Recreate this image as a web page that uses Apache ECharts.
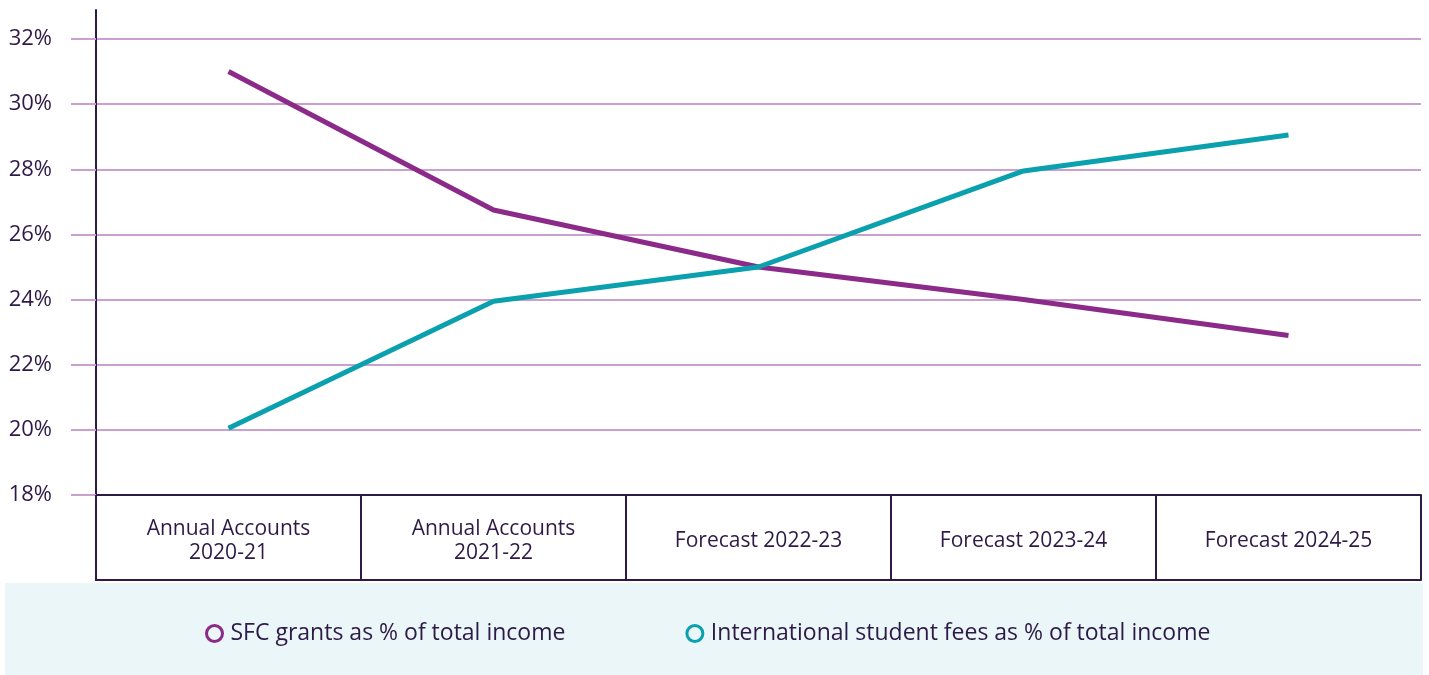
<!DOCTYPE html>
<html><head><meta charset="utf-8">
<script src="https://cdn.jsdelivr.net/npm/echarts@6/dist/echarts.min.js"></script>
<style>html,body{margin:0;padding:0;background:#fff}#c{width:1429px;height:675px}</style>
</head><body><div id="c"></div>
<script>
const categories = ['Annual Accounts\n2020-21', 'Annual Accounts\n2021-22', 'Forecast 2022-23', 'Forecast 2023-24', 'Forecast 2024-25'];
const sfcGrants = [31.0, 26.75, 25.0, 24.0, 22.9];
const intlFees = [20.05, 23.95, 25.0, 27.95, 29.05];
const yTicks = [18, 20, 22, 24, 26, 28, 30, 32];
const seriesNames = ['SFC grants as % of total income', 'International student fees as % of total income'];
const seriesColors = ['#8B2A88', '#0BA0AE'];

const dark = '#2E1A47';
const font = 'Open Sans';
const chart = echarts.init(document.getElementById('c'));
chart.setOption({
  animation: false,
  graphic: [{ type: 'rect', left: 5, top: 583, shape: { width: 1418, height: 92 }, style: { fill: '#EAF6F7' }, z: -10 }],
  grid: [
    { left: 96, right: 8, top: 39, bottom: 180 },
    { left: 96, right: 8, top: 10, bottom: 95 }
  ],
  legend: {
    top: 617, left: 200,
    icon: 'circle', itemWidth: 16, itemHeight: 16, itemGap: 120,
    textStyle: { fontFamily: font, fontSize: 23, color: dark, padding: [0, 0, 0, 3] },
    data: seriesNames.map((n, i) => ({ name: n, itemStyle: { color: '#EAF6F7', borderColor: seriesColors[i], borderWidth: 3 } }))
  },
  xAxis: [
    { type: 'category', gridIndex: 0, data: categories, boundaryGap: true,
      axisLine: { lineStyle: { color: dark, width: 2 } },
      axisTick: { show: false },
      axisLabel: { margin: 46, verticalAlign: 'middle', fontFamily: font, fontSize: 21, color: dark, lineHeight: 24 } },
    { type: 'category', gridIndex: 1, data: categories, boundaryGap: true,
      axisLine: { lineStyle: { color: dark, width: 2 } },
      axisTick: { show: true, inside: true, length: 85, lineStyle: { color: dark, width: 2 } },
      axisLabel: { show: false } }
  ],
  yAxis: [
    { type: 'value', gridIndex: 0, min: yTicks[0], max: yTicks[yTicks.length - 1], interval: 2,
      axisLine: { show: false },
      axisTick: { show: true, length: 25, lineStyle: { color: '#C9A0D0', width: 2 } },
      splitLine: { lineStyle: { color: '#C9A0D0', width: 2 } },
      axisLabel: { margin: 44, fontFamily: font, fontSize: 22, color: dark, formatter: v => v + '%' } },
    { type: 'value', gridIndex: 1, min: 0, max: 1,
      axisLine: { show: true, lineStyle: { color: dark, width: 2 } },
      axisTick: { show: false }, splitLine: { show: false }, axisLabel: { show: false } }
  ],
  series: [
    { name: seriesNames[0], type: 'line', xAxisIndex: 0, yAxisIndex: 0, data: sfcGrants,
      symbol: 'none', color: seriesColors[0], lineStyle: { width: 5, color: seriesColors[0] }, z: 3 },
    { name: seriesNames[1], type: 'line', xAxisIndex: 0, yAxisIndex: 0, data: intlFees,
      symbol: 'none', color: seriesColors[1], lineStyle: { width: 5, color: seriesColors[1] }, z: 4 }
  ]
});
</script></body></html>
